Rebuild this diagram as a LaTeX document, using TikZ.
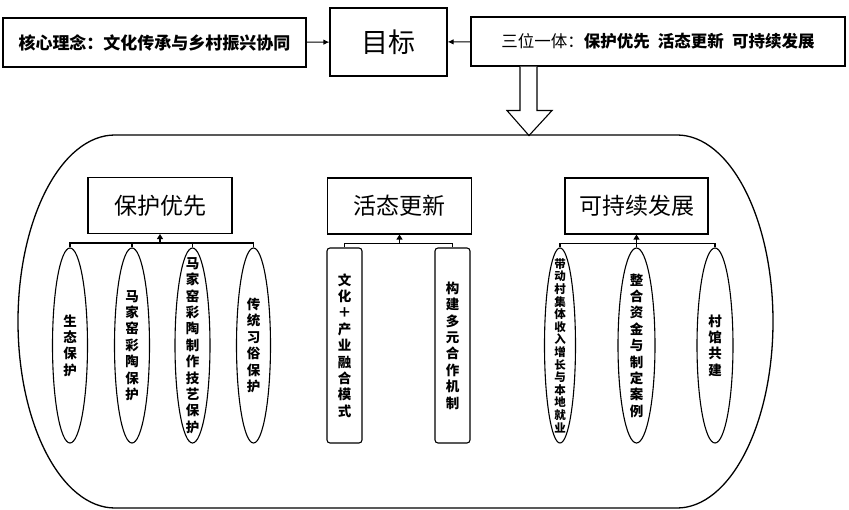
\documentclass[tikz,border=0pt]{standalone}
\usepackage{fontspec}
\setmainfont{Noto Sans CJK SC}
\usetikzlibrary{shapes.geometric,arrows.meta}
\begin{document}
\begin{tikzpicture}[x=1pt,y=-1pt,line width=1.1pt,
    topbox/.style={draw,rectangle,inner sep=0pt,minimum height=49pt},
    headbox/.style={draw,rectangle,inner sep=0pt,minimum width=144pt,minimum height=56pt,font=\fontsize{23}{23}\selectfont},
    leaf/.style={draw,ellipse,inner xsep=0pt,inner ysep=-50pt,minimum width=35pt,minimum height=195pt,align=center,font=\fontsize{13.5}{16.4}\selectfont\bfseries},
    leafbox/.style={draw,rectangle,rounded corners=3pt,inner sep=0pt,minimum width=35pt,minimum height=195pt,align=center,font=\fontsize{13.5}{16.4}\selectfont\bfseries},
    up/.style={-{Triangle[length=5pt,width=6pt]}}]
  \useasboundingbox (0,0) rectangle (849,510);
  % top row
  \node[topbox,minimum width=303pt,font=\fontsize{17}{17}\selectfont\bfseries] (core) at (154.5,42.5) {核心理念：文化传承与乡村振兴协同};
  \node[topbox,minimum width=117pt,minimum height=68pt,font=\fontsize{27}{27}\selectfont] (goal) at (388.5,42) {目标};
  \node[topbox,minimum width=374pt,font=\fontsize{16.5}{16.5}\selectfont] (three) at (658,41.5) {三位一体：\textbf{保护优先\hspace{0.5em}活态更新\hspace{0.5em}可持续发展}};
  \draw[-{Latex[length=6pt,width=5.5pt]}] (core) -- (goal);
  \draw[-{Latex[length=6pt,width=5.5pt]}] (three) -- (goal);
  % hollow arrow down
  \draw[fill=white] (three.south) ++(-138,0) -- ++(0,44) -- ++(-13,0) -- ++(22,25) -- ++(23,-25) -- ++(-15,0) -- ++(0,-44);
  % container
  \draw[line width=1.3pt] (115,135) -- (677,135) arc[start angle=90,end angle=-90,x radius=96pt,y radius=186.5pt]
    -- (115,508) arc[start angle=270,end angle=90,x radius=97pt,y radius=186.5pt];
  % three groups
  \node[headbox] (protect) at (160,205.5) {保护优先};
  \node[headbox] (revive) at (399.5,206) {活态更新};
  \node[headbox,minimum width=143pt] (sustain) at (636.5,206) {可持续发展};
  \coordinate (pbus) at ([yshift=-9pt]protect.south);
  \coordinate (rbus) at ([yshift=-9pt]revive.south);
  \coordinate (sbus) at ([yshift=-9pt]sustain.south);
  \draw[up] (pbus) -- (protect.south);
  \draw[up] (rbus) -- (revive.south);
  \draw[up] (sbus) -- (sustain.south);
  % protect leaves
  \node[leaf] (p1) at (70,345.5) {生\\态\\保\\护};
  \node[leaf] (p2) at (132,345.5) {马\\家\\窑\\彩\\陶\\保\\护};
  \node[leaf] (p3) at (192.5,345.5) {马\\家\\窑\\彩\\陶\\制\\作\\技\\艺\\保\\护};
  \node[leaf,minimum width=34pt] (p4) at (253.5,345.5) {传\\统\\习\\俗\\保\\护};
  \foreach \n in {p1,p2,p3,p4} \draw (\n.north) |- (pbus);
  % revive leaves
  \node[leafbox] (r1) at (344.5,345.5) {文\\化\\＋\\产\\业\\融\\合\\模\\式};
  \node[leafbox] (r2) at (452.5,345.5) {构\\建\\多\\元\\合\\作\\机\\制};
  \foreach \n in {r1,r2} \draw (\n.north) |- (rbus);
  % sustain leaves
  \node[leaf,minimum width=31pt,font=\fontsize{11.5}{12.6}\selectfont\bfseries] (s1) at (560,345.5) {带\\动\\村\\集\\体\\收\\入\\增\\长\\与\\本\\地\\就\\业};
  \node[leaf,minimum width=37pt] (s2) at (636.5,345.5) {整\\合\\资\\金\\与\\制\\定\\案\\例};
  \node[leaf,minimum width=36pt] (s3) at (715,345.5) {村\\馆\\共\\建};
  \foreach \n in {s1,s2,s3} \draw (\n.north) |- (sbus);
\end{tikzpicture}
\end{document}
